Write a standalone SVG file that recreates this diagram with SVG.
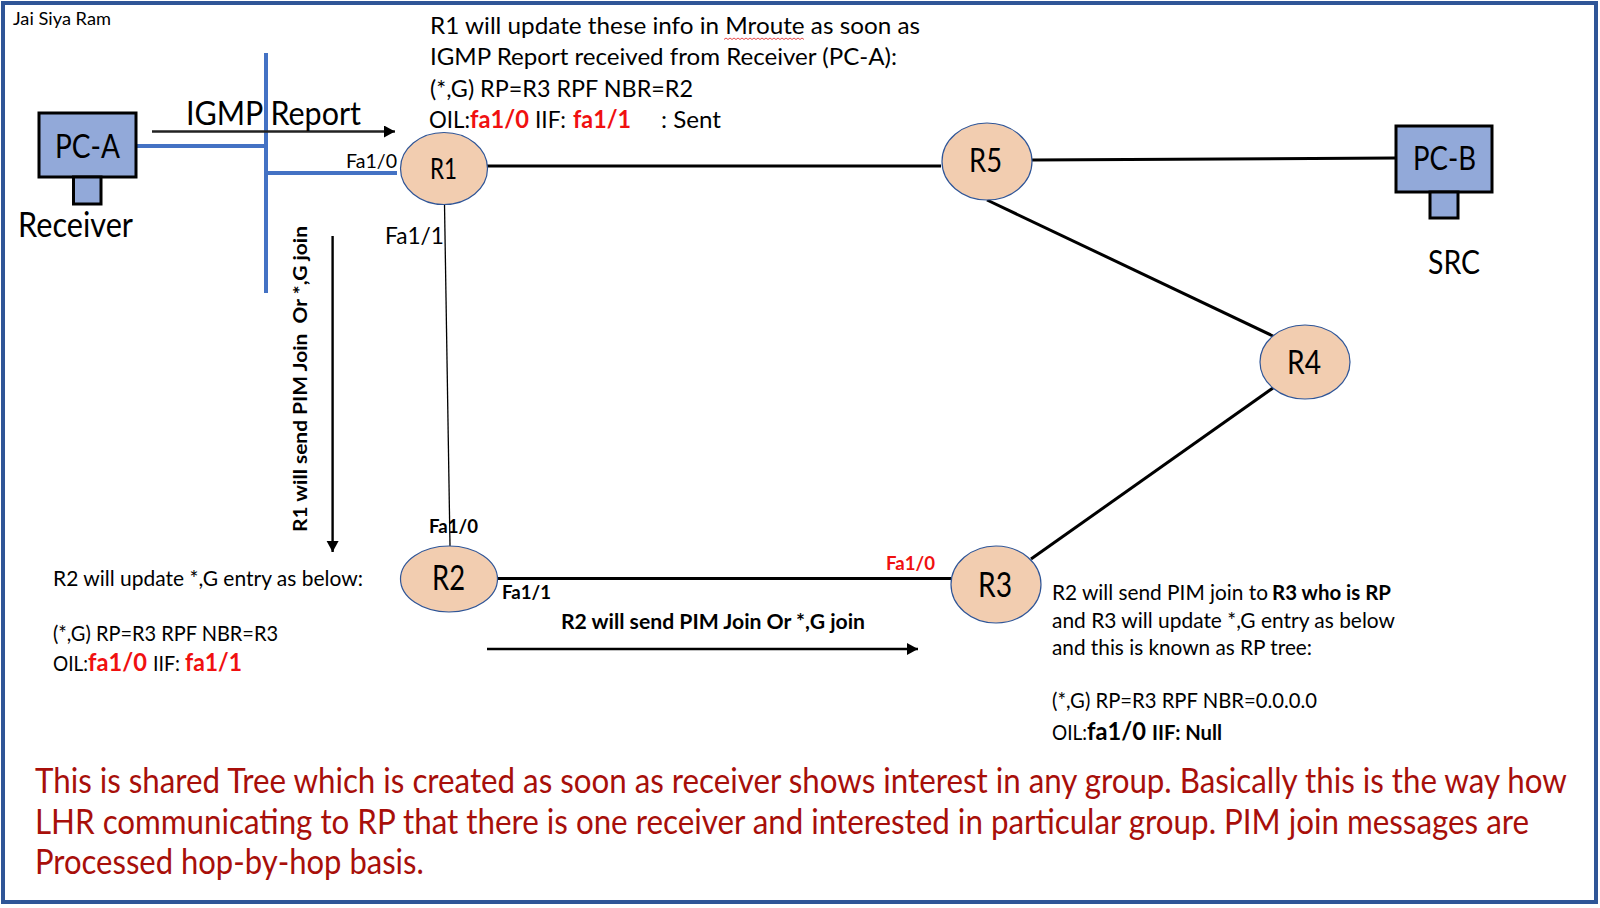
<svg xmlns="http://www.w3.org/2000/svg" width="1600" height="908" viewBox="0 0 1600 908">
<style>
text{font-family:"Lato","Carlito","Liberation Sans",sans-serif;fill:#000}
.b{font-weight:700}
.r{fill:#f01010}
.p{fill:#a80f0a;font-size:35px}
.rt{fill:#f2cdb0;stroke:#2f5597;stroke-width:1.2}
.pc{fill:#92a9d9;stroke:#000;stroke-width:3}
.bl{stroke:#4472c4;stroke-width:4;fill:none}
.k{stroke:#000;fill:none;stroke-width:3}
.s{font-size:24px}
.t{font-size:21px}
</style>
<defs><marker id="ah" markerUnits="userSpaceOnUse" markerWidth="12" markerHeight="14" refX="11" refY="6" orient="auto"><path d="M0 0L11 6L0 12Z" fill="#000"/></marker></defs>
<rect x="3" y="3" width="1593" height="899" fill="#fff" stroke="#2f5597" stroke-width="4"/>
<g id="connectors">
<path class="bl" d="M266 53V293M136 146H266M266 173H397"/>
<path class="k" d="M487 166H941"/>
<path class="k" d="M1032 160L1396 158"/>
<path class="k" d="M987 200L1273 336"/>
<path class="k" d="M1031 559L1273 388"/>
<path class="k" d="M498 578.500H951"/>
<path class="k" style="stroke-width:1.300" d="M444.500 204L450 546"/>
<path class="k" style="stroke-width:2.400;stroke:#222" marker-end="url(#ah)" d="M152 131.500H395"/>
<path class="k" style="stroke-width:2.400" marker-end="url(#ah)" d="M332.600 236V552"/>
<path class="k" style="stroke-width:2.400" marker-end="url(#ah)" d="M487 649H918"/>
</g>
<g id="pc-a"><rect class="pc" x="39" y="113" width="97" height="64"/><rect class="pc" x="73.500" y="177" width="27.500" height="27"/><text x="55" y="158" font-size="33" textLength="65" lengthAdjust="spacingAndGlyphs">PC-A</text><text x="18" y="237" font-size="34" textLength="115" lengthAdjust="spacingAndGlyphs">Receiver</text></g>
<g id="pc-b"><rect class="pc" x="1396" y="126" width="96" height="66"/><rect class="pc" x="1430" y="192" width="28" height="26"/><text x="1413" y="170" font-size="33" textLength="63" lengthAdjust="spacingAndGlyphs">PC-B</text><text x="1428" y="274" font-size="33" textLength="52" lengthAdjust="spacingAndGlyphs">SRC</text></g>
<g id="r1"><ellipse class="rt" cx="444" cy="168.500" rx="43.500" ry="36"/><text x="430" y="179" font-size="28" textLength="27" lengthAdjust="spacingAndGlyphs">R1</text></g>
<g id="r2"><ellipse class="rt" cx="449" cy="579" rx="48.500" ry="33"/><text x="432" y="590" font-size="34" textLength="33" lengthAdjust="spacingAndGlyphs">R2</text></g>
<g id="r3"><ellipse class="rt" cx="996" cy="584.500" rx="45" ry="38.500"/><text x="978" y="597" font-size="34" textLength="34" lengthAdjust="spacingAndGlyphs">R3</text></g>
<g id="r4"><ellipse class="rt" cx="1305" cy="362" rx="45" ry="37"/><text x="1287" y="374" font-size="33" textLength="34" lengthAdjust="spacingAndGlyphs">R4</text></g>
<g id="r5"><ellipse class="rt" cx="987" cy="161.500" rx="45" ry="38.500"/><text x="969" y="172" font-size="33" textLength="33" lengthAdjust="spacingAndGlyphs">R5</text></g>
<g id="labels">
<text x="13" y="25" font-size="17" textLength="98" lengthAdjust="spacingAndGlyphs">Jai Siya Ram</text>
<text class="s" x="430" y="34" textLength="490" lengthAdjust="spacingAndGlyphs">R1 will update these info in Mroute as soon as</text>
<path d="M724 39.500l2-1.500 2 1.500 2-1.500 2 1.500 2-1.500 2 1.500 2-1.500 2 1.500 2-1.500 2 1.500 2-1.500 2 1.500 2-1.500 2 1.500 2-1.500 2 1.500 2-1.500 2 1.500 2-1.500 2 1.500 2-1.500 2 1.500 2-1.500 2 1.500 2-1.500 2 1.500 2-1.500 2 1.500 2-1.500 2 1.500 2-1.500 2 1.500 2-1.500 2 1.500 2-1.500 2 1.500 2-1.500 2 1.500 2-1.500 2 1.500" fill="none" stroke="#e02020" stroke-width="0.800"/>
<text class="s" x="430" y="65" textLength="467" lengthAdjust="spacingAndGlyphs">IGMP Report received from Receiver (PC-A):</text>
<text class="s" x="430" y="97" textLength="263" lengthAdjust="spacingAndGlyphs">(*,G) RP=R3 RPF NBR=R2</text>
<text class="s" x="429" y="128" textLength="41" lengthAdjust="spacingAndGlyphs">OIL:</text>
<text class="s b r" x="470" y="128" textLength="59" lengthAdjust="spacingAndGlyphs">fa1/0</text>
<text class="s" x="535" y="128" textLength="31" lengthAdjust="spacingAndGlyphs">IIF:</text>
<text class="s b r" x="573" y="128" textLength="58" lengthAdjust="spacingAndGlyphs">fa1/1</text>
<text class="s" x="661" y="128" textLength="60" lengthAdjust="spacingAndGlyphs">: Sent</text>
<text x="186" y="125" font-size="33" textLength="175" lengthAdjust="spacingAndGlyphs">IGMP Report</text>
<text x="346" y="168" font-size="20" textLength="51" lengthAdjust="spacingAndGlyphs">Fa1/0</text>
<text x="385" y="244" font-size="23" textLength="59" lengthAdjust="spacingAndGlyphs">Fa1/1</text>
<text class="b" transform="translate(307 532) rotate(-90)" font-size="19" textLength="306" lengthAdjust="spacingAndGlyphs" xml:space="preserve">R1 will send PIM Join  Or *,G join</text>
<text class="t" x="53" y="586" textLength="310" lengthAdjust="spacingAndGlyphs">R2 will update *,G entry as below:</text>
<text class="t" x="53" y="641" textLength="225" lengthAdjust="spacingAndGlyphs">(*,G) RP=R3 RPF NBR=R3</text>
<text class="t" x="53" y="671" textLength="35" lengthAdjust="spacingAndGlyphs">OIL:</text>
<text class="b r" x="88" y="671" font-size="25" textLength="59" lengthAdjust="spacingAndGlyphs">fa1/0</text>
<text class="t" x="153" y="671" textLength="27" lengthAdjust="spacingAndGlyphs">IIF:</text>
<text class="b r" x="185" y="671" font-size="25" textLength="57" lengthAdjust="spacingAndGlyphs">fa1/1</text>
<text class="b" x="429" y="533" font-size="18" textLength="49" lengthAdjust="spacingAndGlyphs">Fa1/0</text>
<text class="b" x="502" y="599" font-size="18" textLength="49" lengthAdjust="spacingAndGlyphs">Fa1/1</text>
<text class="b r" x="886" y="570" font-size="18" textLength="49" lengthAdjust="spacingAndGlyphs">Fa1/0</text>
<text class="b" x="561" y="629" font-size="20" textLength="304" lengthAdjust="spacingAndGlyphs">R2 will send PIM Join Or *,G join</text>
<text class="t" x="1052" y="600" textLength="216" lengthAdjust="spacingAndGlyphs">R2 will send PIM join to</text>
<text class="t b" x="1272" y="600" textLength="119" lengthAdjust="spacingAndGlyphs">R3 who is RP</text>
<text class="t" x="1052" y="628" textLength="343" lengthAdjust="spacingAndGlyphs">and R3 will update *,G entry as below</text>
<text class="t" x="1052" y="655" textLength="260" lengthAdjust="spacingAndGlyphs">and this is known as RP tree:</text>
<text class="t" x="1052" y="708" textLength="265" lengthAdjust="spacingAndGlyphs">(*,G) RP=R3 RPF NBR=0.0.0.0</text>
<text class="t" x="1052" y="740" textLength="35" lengthAdjust="spacingAndGlyphs">OIL:</text>
<text class="b" x="1087" y="740" font-size="25" textLength="59" lengthAdjust="spacingAndGlyphs">fa1/0</text>
<text class="b" x="1152" y="740" font-size="20" textLength="70" lengthAdjust="spacingAndGlyphs">IIF: Null</text>
<text class="p" transform="translate(35 793) scale(.9 1)" textLength="1702" lengthAdjust="spacingAndGlyphs">This is shared Tree which is created as soon as receiver shows interest in any group. Basically this is the way how</text>
<text class="p" transform="translate(35 834) scale(.9 1)" textLength="1660" lengthAdjust="spacingAndGlyphs">LHR communicating to RP that there is one receiver and interested in particular group. PIM join messages are</text>
<text class="p" transform="translate(35 874) scale(.9 1)" textLength="432" lengthAdjust="spacingAndGlyphs">Processed hop-by-hop basis.</text>
</g>
</svg>
